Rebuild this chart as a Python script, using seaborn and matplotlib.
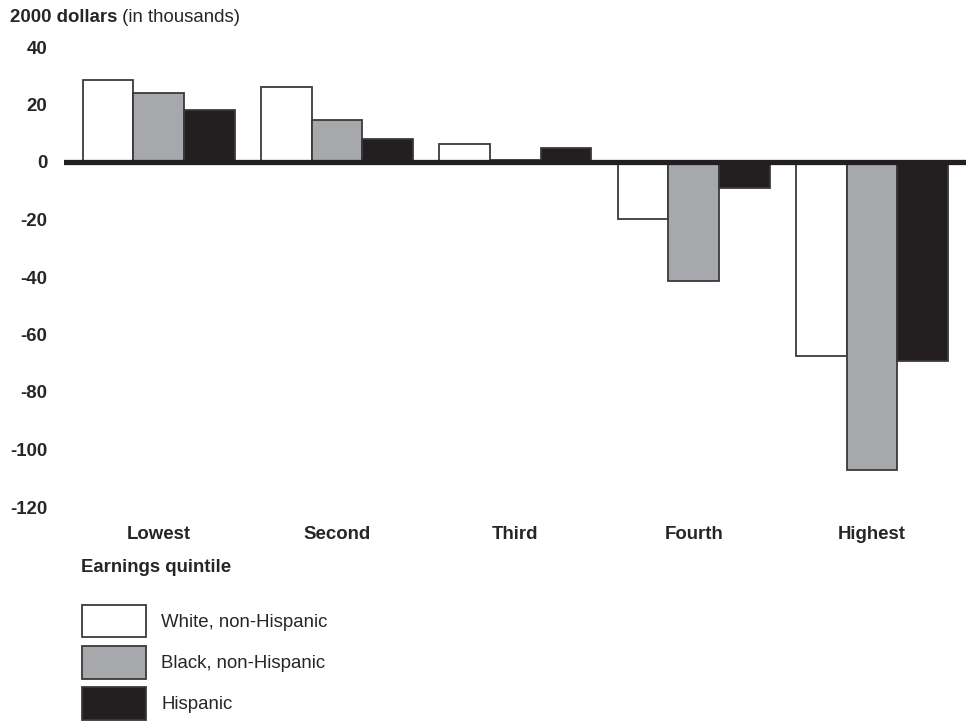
import pandas as pd
import matplotlib
matplotlib.use("Agg")
import matplotlib.pyplot as plt
import seaborn as sns
from matplotlib.patches import Patch

# values (thousands of 2000 dollars)
quintiles = ['Lowest', 'Second', 'Third', 'Fourth', 'Highest']
groups = ['White, non-Hispanic', 'Black, non-Hispanic', 'Hispanic']
white_vals = [28.4, 26.0, 6.1, -19.7, -67.5]
black_vals = [23.9, 14.5, 0.8, -41.3, -107.0]
hisp_vals = [18.0, 8.1, 4.9, -8.9, -69.2]
yticks = [40, 20, 0, -20, -40, -60, -80, -100, -120]

colors = ['#ffffff', '#a7a8ab', '#231f20']
edge = '#3a3a3a'
fs = 13.4

df = pd.DataFrame({
    'quintile': quintiles * 3,
    'group': [groups[0]] * 5 + [groups[1]] * 5 + [groups[2]] * 5,
    'value': white_vals + black_vals + hisp_vals,
})

sns.set_style('white')
plt.rcParams['font.family'] = ['Liberation Sans', 'DejaVu Sans']
plt.rcParams['font.size'] = fs

fig = plt.figure(figsize=(9.75, 7.22), dpi=100)
ax = fig.add_axes([64 / 975, 1 - 507 / 722, (966 - 64) / 975, 460 / 722])

sns.barplot(data=df, x='quintile', y='value', hue='group', order=quintiles,
            hue_order=groups, palette=colors, width=0.852, saturation=1,
            edgecolor=edge, linewidth=1.3, ax=ax, legend=False)

ax.axhline(0, color='#231f20', lw=3.8, zorder=5)
ax.set_xlim(-0.530, 4.526)
ax.set_ylim(-120, 40)
ax.set_yticks(yticks)
ax.set_yticklabels([str(v) for v in yticks], fontweight='bold')
ax.set_xticks(range(len(quintiles)))
ax.set_xticklabels(quintiles, fontweight='bold')
ax.tick_params(axis='both', length=0, labelsize=fs)
ax.tick_params(axis='y', pad=12)
ax.tick_params(axis='x', pad=14)
ax.set_xlabel('')
ax.set_ylabel('')
sns.despine(ax=ax, left=True, bottom=True)

# title: bold part + regular part
t1 = fig.text(10 / 975, 1 - 22 / 722, '2000 dollars', fontweight='bold',
              fontsize=fs, ha='left', va='baseline')
ax.annotate(' (in thousands)', xy=(1, 0), xycoords=t1, fontsize=fs,
            ha='left', va='bottom')

fig.text(81 / 975, 1 - 572 / 722, 'Earnings quintile', fontweight='bold',
         fontsize=fs, ha='left', va='baseline')

handles = [Patch(facecolor=c, edgecolor=edge, linewidth=1.3) for c in colors]
fig.legend(handles, groups, loc='upper left',
           bbox_to_anchor=(82 / 975, 1 - 605 / 722),
           bbox_transform=fig.transFigure, frameon=False, borderpad=0,
           handlelength=3.45, handleheight=2.3, labelspacing=0.47,
           handletextpad=0.82, fontsize=fs, borderaxespad=0)

fig.savefig('out.png', dpi=100)
